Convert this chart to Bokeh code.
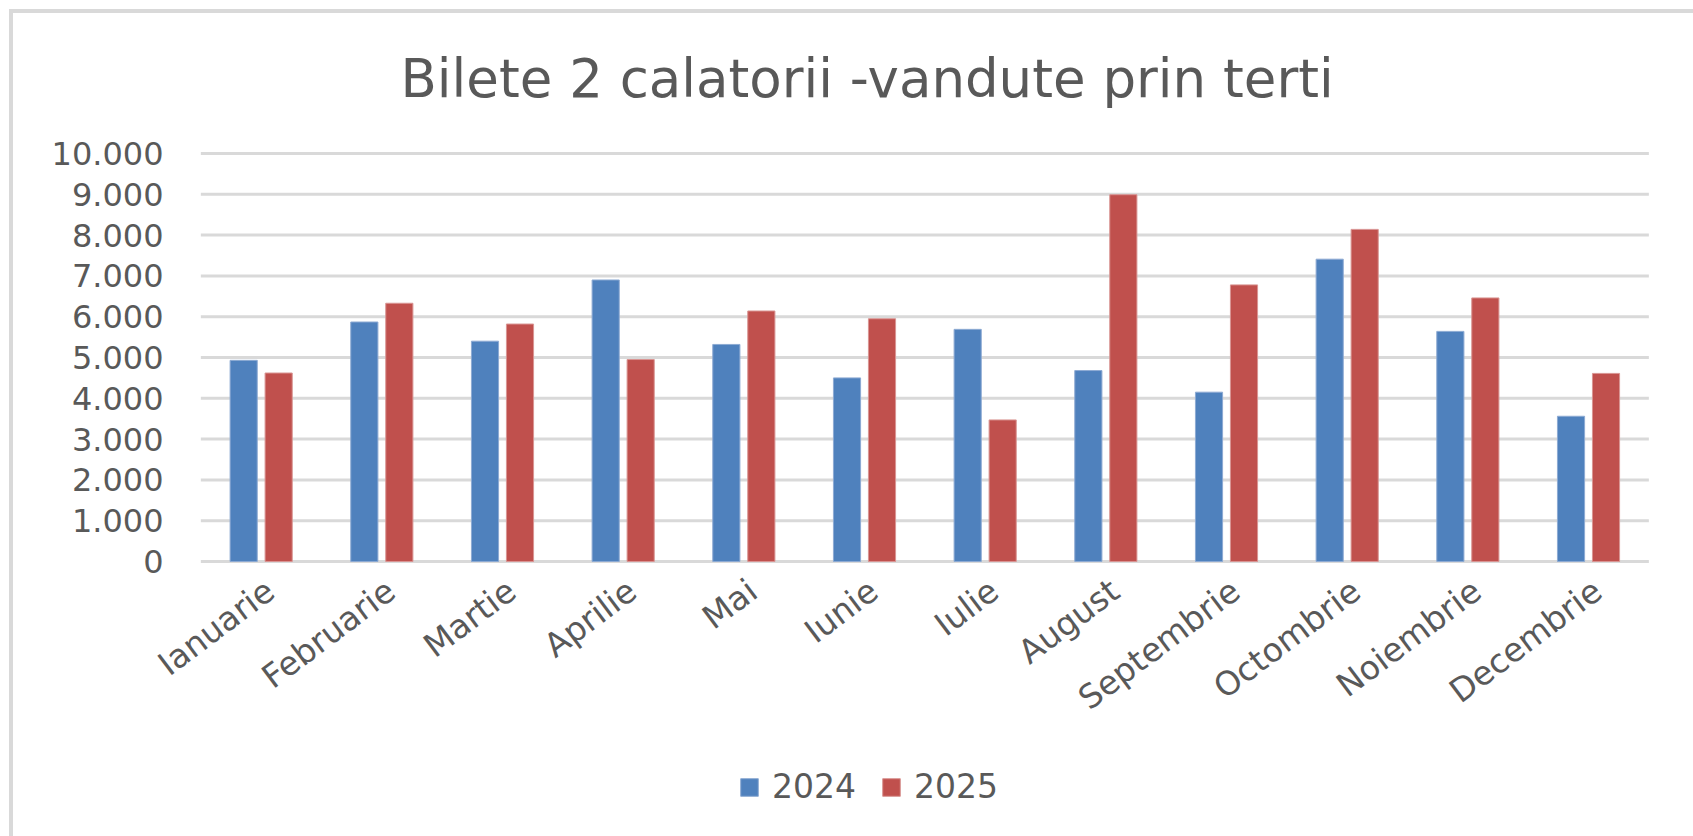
import math
from bokeh.plotting import figure
from bokeh.models import (ColumnDataSource, Range1d, FixedTicker,
                          CustomJSTickFormatter, Legend, LegendItem)
from bokeh.core.properties import value
from bokeh.transform import dodge
from bokeh.embed import file_html
from bokeh.resources import INLINE

# ---- data ----
months = ["Ianuarie", "Februarie", "Martie", "Aprilie", "Mai", "Iunie",
          "Iulie", "August", "Septembrie", "Octombrie", "Noiembrie", "Decembrie"]
sales_2024 = [4930, 5870, 5400, 6900, 5320, 4500, 5690, 4680, 4150, 7410, 5640, 3560]
sales_2025 = [4620, 6330, 5820, 4950, 6140, 5950, 3470, 8990, 6780, 8140, 6460, 4610]
y_ticks = [0, 1000, 2000, 3000, 4000, 5000, 6000, 7000, 8000, 9000, 10000]
series_names = ["2024", "2025"]
series_colors = ["#4F81BD", "#C0504D"]
title_text = "Bilete 2 calatorii -vandute prin terti"

n = len(months)
centers = [i + 0.5 for i in range(n)]          # category band centres
source = ColumnDataSource(dict(month=months, xc=centers, s2024=sales_2024,
                               s2025=sales_2025, base=[0] * n))
grid_src = ColumnDataSource(dict(y=y_ticks, x0=[0] * len(y_ticks), x1=[n] * len(y_ticks)))

FONT = "DejaVu Sans"
TXT = "#595959"

# frame spans the whole lower part so texts/legend outside the grid are not clipped
p = figure(x_range=Range1d(-0.5, n + 0.37),
           y_range=(-6740, 10098),
           width=1693, height=836,
           output_backend="svg", toolbar_location=None,
           min_border_left=140, min_border_right=0,
           min_border_top=149, min_border_bottom=0)
p.styles = {"background": "linear-gradient(#D9D9D9, #D9D9D9) 9px 9px / 100% 4px no-repeat, "
                          "linear-gradient(#D9D9D9, #D9D9D9) 9px 9px / 4px 100% no-repeat, white"}
p.outline_line_color = None
p.background_fill_color = "white"
p.border_fill_color = None
p.xgrid.grid_line_color = None
p.ygrid.grid_line_color = None

# horizontal gridlines across the category bands
p.segment(x0="x0", x1="x1", y0="y", y1="y", source=grid_src,
          line_color="#D9D9D9", line_width=3, level="underlay")

r1 = p.vbar(x=dodge("xc", -0.145), top="s2024", width=0.225,
            source=source, fill_color=series_colors[0], line_color="#8DAAD3", line_width=1)
r2 = p.vbar(x=dodge("xc", 0.145), top="s2025", width=0.225,
            source=source, fill_color=series_colors[1], line_color="#D99593", line_width=1)

# category labels (rotated), anchored below the zero line of each category
p.text(x="xc", y="base", text="month", source=source,
       angle=math.radians(37), text_align="right", text_baseline="middle",
       x_offset=9, y_offset=25,
       text_font=value(FONT), text_font_size="33px", text_color=TXT)

# title
p.title.text = title_text
p.title.text_font = FONT
p.title.text_font_size = "53px"
p.title.text_font_style = "normal"
p.title.text_color = TXT
p.title.align = "left"
p.title.offset = 260
p.title.standoff = 81

# y axis
p.yaxis.ticker = FixedTicker(ticks=y_ticks)
p.yaxis.formatter = CustomJSTickFormatter(
    code='return Math.round(tick).toString().replace(/\\B(?=(\\d{3})+(?!\\d))/g, ".");')
p.yaxis.axis_line_color = None
p.yaxis.major_tick_line_color = None
p.yaxis.minor_tick_line_color = None
p.yaxis.major_label_text_font = FONT
p.yaxis.major_label_text_font_size = "32px"
p.yaxis.major_label_text_color = TXT
p.yaxis.major_label_standoff = -29

p.xaxis.visible = False

legend = Legend(items=[LegendItem(label=series_names[0], renderers=[r1]),
                       LegendItem(label=series_names[1], renderers=[r2])],
                orientation="horizontal", location=(598, 30),
                border_line_color=None, background_fill_alpha=0,
                glyph_width=22, glyph_height=22,
                label_text_font=FONT, label_text_font_size="33px",
                label_text_color=TXT, label_standoff=12, spacing=24,
                padding=0, margin=0)
p.add_layout(legend, "center")

open("out.html", "w").write(file_html(p, INLINE))
